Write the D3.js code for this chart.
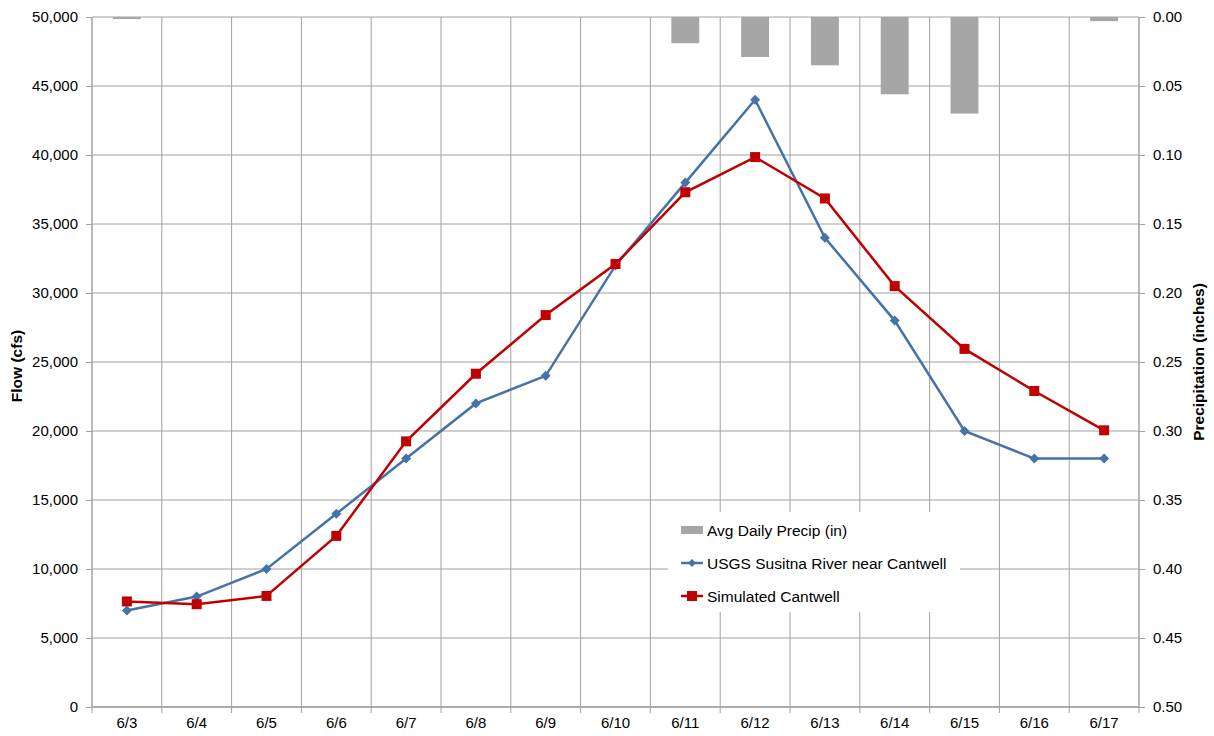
<!DOCTYPE html>
<html>
<head>
<meta charset="utf-8">
<script src="https://cdn.jsdelivr.net/npm/d3@7"></script>
<style>
  body { margin: 0; background: #fff; }
  svg text { font-family: "Liberation Sans", Arial, sans-serif; fill: #000; }
</style>
</head>
<body>
<div id="chart"></div>
<script>
// Data
var dates = ["6/3", "6/4", "6/5", "6/6", "6/7", "6/8", "6/9", "6/10", "6/11", "6/12", "6/13", "6/14", "6/15", "6/16", "6/17"];
var usgsFlow = [7000, 8000, 10000, 14000, 18000, 22000, 24000, 32000, 38000, 44000, 34000, 28000, 20000, 18000, 18000];
var simFlow = [7650, 7450, 8050, 12400, 19250, 24150, 28400, 32100, 37300, 39850, 36850, 30500, 25950, 22900, 20050];
var precip = [0.0015, 0, 0, 0, 0, 0, 0, 0, 0.019, 0.029, 0.035, 0.056, 0.07, 0, 0.003];
var flowTicks = [0, 5000, 10000, 15000, 20000, 25000, 30000, 35000, 40000, 45000, 50000];
var precipTicks = [0, 0.05, 0.1, 0.15, 0.2, 0.25, 0.3, 0.35, 0.4, 0.45, 0.5];

var margin = { top: 17, right: 75, bottom: 29, left: 92 },
    width = 1214 - margin.left - margin.right,
    height = 736 - margin.top - margin.bottom;

var gridColor = "#a0a0a0";
var blue = "#4572a7";
var red = "#c00000";

var svg = d3.select("#chart")
  .append("svg")
  .attr("width", 1214)
  .attr("height", 736)
  .append("g")
  .attr("transform", "translate(" + margin.left + "," + margin.top + ")");

var x = d3.scaleBand().domain(dates).range([0, width]);
var y = d3.scaleLinear().domain([0, 50000]).range([height, 0]);
var y2 = d3.scaleLinear().domain([0, 0.5]).range([0, height]);

// horizontal gridlines
svg.selectAll(".hgrid")
  .data(flowTicks)
  .enter()
  .append("line")
  .attr("x1", 0).attr("x2", width)
  .attr("y1", d => y(d)).attr("y2", d => y(d))
  .attr("stroke", gridColor).attr("stroke-width", 1);

// vertical gridlines at category boundaries
svg.selectAll(".vgrid")
  .data(dates.slice(1))
  .enter()
  .append("line")
  .attr("x1", d => x(d)).attr("x2", d => x(d))
  .attr("y1", 0).attr("y2", height)
  .attr("stroke", gridColor).attr("stroke-width", 1);

// precipitation bars hang from the top
svg.selectAll(".bar")
  .data(precip)
  .enter()
  .append("rect")
  .attr("x", (d, i) => x(dates[i]) + x.bandwidth() * 0.3)
  .attr("width", x.bandwidth() * 0.4)
  .attr("y", 0)
  .attr("height", d => y2(d))
  .attr("fill", "#a6a6a6");

// axes
var leftAxis = d3.axisLeft(y).tickValues(flowTicks).tickSize(6).tickPadding(8)
  .tickFormat(d => d3.format(",")(d));
var gl = svg.append("g").call(leftAxis);

var rightAxis = d3.axisRight(y2).tickValues(precipTicks).tickSize(6).tickPadding(8)
  .tickFormat(d3.format(".2f"));
var gr = svg.append("g").attr("transform", "translate(" + width + ",0)").call(rightAxis);

var bottomAxis = d3.axisBottom(x).tickSize(0).tickPadding(10);
var gb = svg.append("g").attr("transform", "translate(0," + height + ")").call(bottomAxis);

// x tick marks at category boundaries
svg.selectAll(".xtick")
  .data(dates.concat(["end"]))
  .enter()
  .append("line")
  .attr("x1", (d, i) => i * x.step()).attr("x2", (d, i) => i * x.step())
  .attr("y1", height).attr("y2", height + 6)
  .attr("stroke", gridColor);

[gl, gr, gb].forEach(function(g) {
  g.selectAll(".domain").attr("stroke", gridColor).attr("stroke-width", 1.5);
  g.selectAll(".tick line").attr("stroke", gridColor);
  g.selectAll("text").attr("font-size", 15).style("font-family", "Liberation Sans, Arial, sans-serif").attr("fill", "#000");
});
gl.select(".domain").attr("d", "M0," + height + "V0");
gr.select(".domain").attr("d", "M0," + height + "V0");
gb.select(".domain").attr("d", "M0,0H" + width);

// axis titles
svg.append("text")
  .attr("transform", "translate(" + (-70) + "," + (height / 2 + 4) + ") rotate(-90)")
  .attr("text-anchor", "middle")
  .attr("font-size", 15.5).attr("font-weight", "bold")
  .text("Flow (cfs)");

svg.append("text")
  .attr("transform", "translate(" + (width + 65) + "," + (height / 2) + ") rotate(-90)")
  .attr("text-anchor", "middle")
  .attr("font-size", 15.5).attr("font-weight", "bold")
  .text("Precipitation (inches)");

// lines
var cx = d => x(d) + x.bandwidth() / 2;
var line = d3.line().x((d, i) => cx(dates[i])).y(d => y(d));

svg.append("path").datum(usgsFlow)
  .attr("d", line).attr("fill", "none")
  .attr("stroke", blue).attr("stroke-width", 2.5);

svg.append("path").datum(simFlow)
  .attr("d", line).attr("fill", "none")
  .attr("stroke", red).attr("stroke-width", 2.5);

// square diamond marker
var diamond = "M0,-5L5,0L0,5L-5,0Z";
svg.selectAll(".usgs")
  .data(usgsFlow)
  .enter()
  .append("path")
  .attr("d", diamond)
  .attr("transform", (d, i) => "translate(" + cx(dates[i]) + "," + y(d) + ")")
  .attr("fill", blue);

svg.selectAll(".sim")
  .data(simFlow)
  .enter()
  .append("rect")
  .attr("x", (d, i) => cx(dates[i]) - 5)
  .attr("y", d => y(d) - 5)
  .attr("width", 10).attr("height", 10)
  .attr("fill", red);

// legend
var lg = svg.append("g").attr("transform", "translate(" + (668 - margin.left) + "," + (512 - margin.top) + ")");
lg.append("rect").attr("width", 292).attr("height", 100).attr("fill", "#fff");

var legendItems = [
  { name: "Avg Daily Precip (in)", kind: "bar" },
  { name: "USGS Susitna River near Cantwell", kind: "usgs" },
  { name: "Simulated Cantwell", kind: "sim" }
];
legendItems.forEach(function(item, i) {
  var ly = 18 + i * 33;
  if (item.kind === "bar") {
    lg.append("rect").attr("x", 13).attr("y", ly - 4).attr("width", 22).attr("height", 8).attr("fill", "#a6a6a6");
  } else {
    var c = item.kind === "usgs" ? blue : red;
    lg.append("line").attr("x1", 13).attr("x2", 35).attr("y1", ly).attr("y2", ly)
      .attr("stroke", c).attr("stroke-width", 2.5);
    if (item.kind === "usgs") {
      lg.append("path").attr("d", diamond).attr("transform", "translate(24," + ly + ") scale(0.8)").attr("fill", c);
    } else {
      lg.append("rect").attr("x", 19).attr("y", ly - 5).attr("width", 10).attr("height", 10).attr("fill", c);
    }
  }
  lg.append("text").attr("x", 39).attr("y", ly + 5.5).attr("font-size", 15.5).text(item.name);
});
</script>
</body>
</html>
